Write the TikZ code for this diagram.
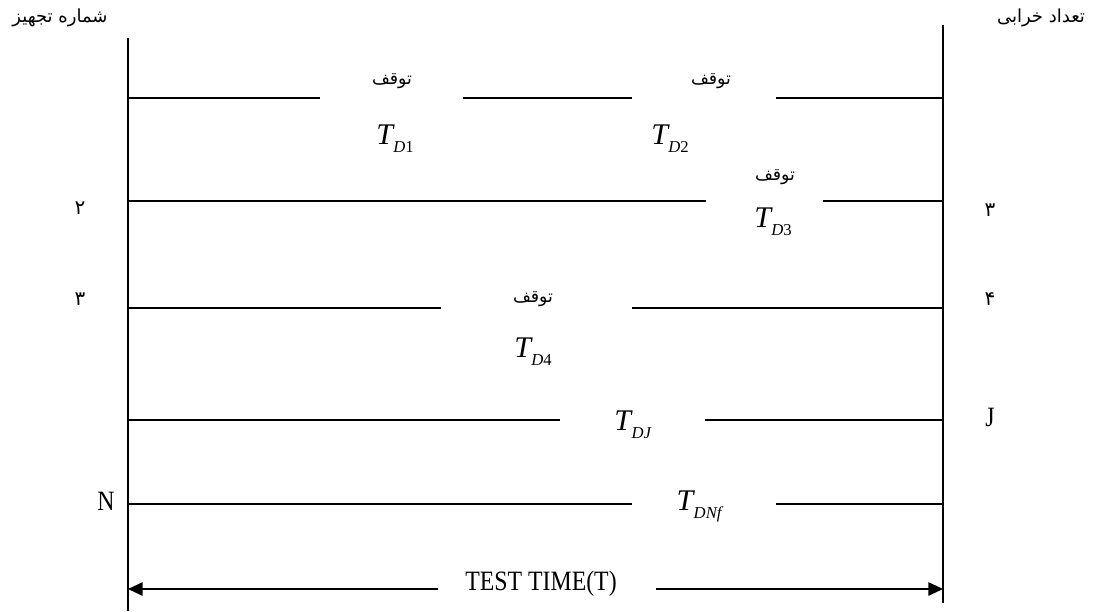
\documentclass[tikz,border=0pt]{standalone}
\usepackage{fontspec}
\setmainfont{Liberation Serif}
\newfontfamily\fafont[Script=Arabic]{DejaVu Sans}
\TeXXeTstate=1
\usetikzlibrary{arrows.meta}
\newcommand{\fa}[1]{{\fafont\beginR #1\endR}}
\newcommand{\narrow}[1]{\scalebox{0.85}[1]{#1}}
\newcommand{\tdown}[1]{\textit{T}\kern-1pt\raisebox{-6pt}{\fontsize{12.5}{14}\selectfont #1}}

\begin{document}
\begin{tikzpicture}[
    x=0.75pt, y=-0.75pt,
    >={Triangle[length=11pt,width=10pt]},
    axis/.style={line width=1.4pt},
    track/.style={line width=1.4pt},
    halt/.style={font=\fontsize{13}{15}\selectfont, inner sep=0pt},
    tlbl/.style={font=\fontsize{22.5}{26}\selectfont, inner sep=0pt},
    side/.style={font=\fontsize{21}{24}\selectfont, inner sep=0pt},
    digit/.style={font=\fontsize{15}{17}\selectfont, inner sep=0pt},
    head/.style={font=\fontsize{13.5}{16}\selectfont, inner sep=0pt},
]
\useasboundingbox (0,0) rectangle (1098,611);
% ---- axes ----
\coordinate (LT) at (128,38);  \coordinate (LB) at (128,611);
\coordinate (RT) at (943,25);  \coordinate (RB) at (943,603);
\draw[axis] (LT) -- (LB);
\draw[axis] (RT) -- (RB);
\node[head] (hl) at (60,18)   {\fa{شماره تجهیز}};
\node[head] (hr) at (1041,18) {\fa{تعداد خرابی}};

% ---- row 1 ----
\coordinate (a0) at (128,98); \coordinate (a1) at (320,98);
\coordinate (a2) at (463,98); \coordinate (a3) at (632,98);
\coordinate (a4) at (776,98); \coordinate (a5) at (943,98);
\draw[track] (a0) -- (a1);
\draw[track] (a2) -- (a3);
\draw[track] (a4) -- (a5);
\node[halt] (s1) at (392,81) {\fa{توقف}};
\node[halt] (s2) at (711,81) {\fa{توقف}};
\node[tlbl] (t1) at (395,139) {\tdown{\textit{D}1}};
\node[tlbl] (t2) at (670,139) {\tdown{\textit{D}2}};

% ---- row 2 ----
\coordinate (b0) at (128,201); \coordinate (b1) at (706,201);
\coordinate (b2) at (823,201); \coordinate (b3) at (943,201);
\draw[track] (b0) -- (b1);
\draw[track] (b2) -- (b3);
\node[halt] (s3) at (775,177) {\fa{توقف}};
\node[tlbl] (t3) at (773,222) {\tdown{\textit{D}3}};
\node[digit] (n2) at (80,208)  {\fa{۲}};
\node[digit] (m3) at (990,210) {\fa{۳}};

% ---- row 3 ----
\coordinate (c0) at (128,308); \coordinate (c1) at (441,308);
\coordinate (c2) at (632,308); \coordinate (c3) at (943,308);
\draw[track] (c0) -- (c1);
\draw[track] (c2) -- (c3);
\node[halt] (s4) at (533,299) {\fa{توقف}};
\node[tlbl] (t4) at (533,352) {\tdown{\textit{D}4}};
\node[digit] (n3) at (80,299)  {\fa{۳}};
\node[digit] (m4) at (990,299) {\fa{۴}};

% ---- row J ----
\coordinate (d0) at (128,420); \coordinate (d1) at (560,420);
\coordinate (d2) at (705,420); \coordinate (d3) at (943,420);
\draw[track] (d0) -- (d1);
\draw[track] (d2) -- (d3);
\node[tlbl] (tj) at (633,425) {\tdown{\textit{DJ}}};
\node[side] (mj) at (990,417) {\narrow{J}};

% ---- row N ----
\coordinate (e0) at (128,504); \coordinate (e1) at (632,504);
\coordinate (e2) at (776,504); \coordinate (e3) at (943,504);
\draw[track] (e0) -- (e1);
\draw[track] (e2) -- (e3);
\node[tlbl] (tn) at (700,506) {\tdown{\textit{DNf}}};
\node[side] (nn) at (106,501) {\narrow{N}};

% ---- test time ----
\node[side] (tt) at (541,584) {\narrow{TEST TIME(T)}};
\coordinate (f0) at (128,589); \coordinate (f1) at (943,589);
\coordinate (g0) at (438,589); \coordinate (g1) at (656,589);
\draw[track, <-] (f0) -- (g0);
\draw[track, ->] (g1) -- (f1);
\end{tikzpicture}
\end{document}
